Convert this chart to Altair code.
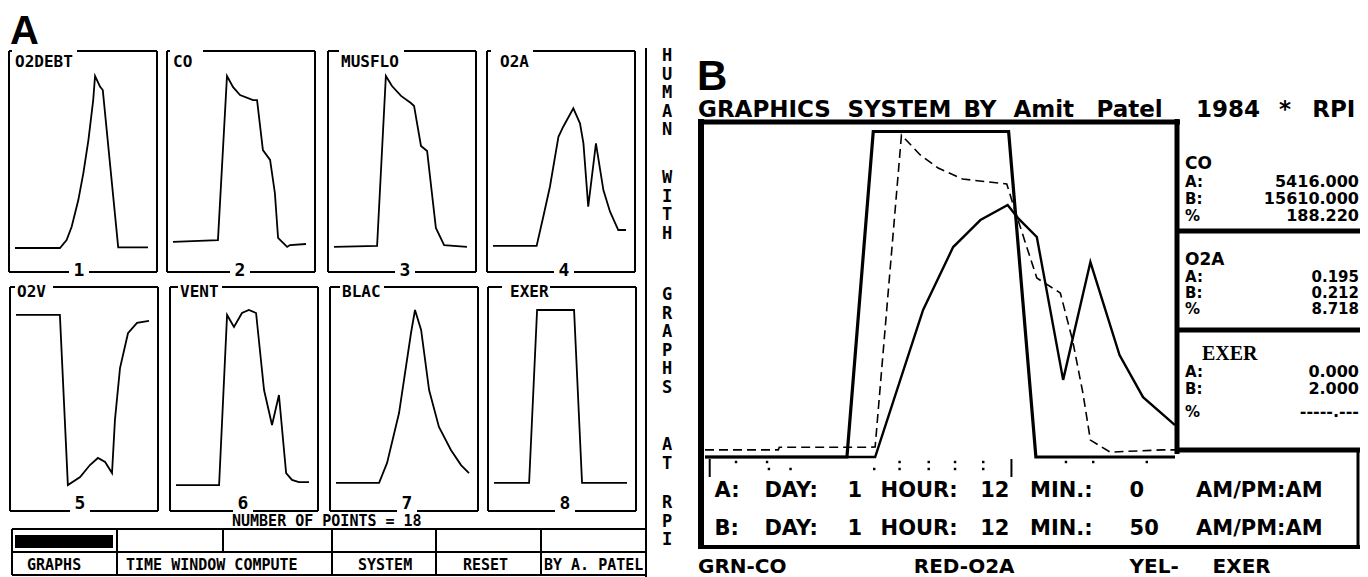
import re
import altair as alt
import pandas as pd

# ======================= DATA =======================
# Panel A: eight small traces, time in minutes (0-50), value in % of panel full scale
O2DEBT_T = [0, 16.9, 19.4, 21.3, 23.8, 25.7, 27.6, 29.4, 30.1, 32.0, 33.0, 38.8, 50]
O2DEBT_V = [0, 0, 4.6, 12.3, 27.7, 43.3, 62.4, 85.5, 99.4, 93.2, 91.3, 0.4, 0.4]

CO_T = [0, 16.9, 20.3, 22.6, 25.2, 30.1, 31.6, 33.8, 36.5, 38.3, 39.5, 42.9, 44.0, 50]
CO_V = [3.5, 4.6, 99.4, 93.0, 88.4, 85.5, 85.5, 56.6, 50.9, 31.8, 5.8, 0.6, 1.7, 2.3]

MUSFLO_T = [0, 16.2, 19.5, 21.8, 25.2, 28.9, 30.1, 32.7, 35.0, 38.3, 41.4, 50]
MUSFLO_V = [0.6, 1.2, 99.4, 93.6, 87.9, 83.8, 82.1, 59.0, 56.1, 11.6, 1.7, 0.6]

O2A_T = [0, 16.4, 18.9, 21.4, 24.6, 26.4, 30.2, 32.7, 34.0, 35.8, 38.7, 41.5, 44.0, 47.1, 50]
O2A_V = [1.2, 1.2, 18.1, 35.4, 64.3, 70.1, 80.7, 72.1, 60.5, 23.9, 60.5, 33.5, 21.0, 10.4, 10.4]

O2V_T = [0, 16.5, 19.5, 24.1, 27.8, 30.8, 33.5, 36.1, 37.2, 39.1, 42.1, 45.5, 50]
O2V_V = [97.2, 97.2, 1.1, 5.6, 12.4, 16.4, 14.1, 7.9, 37.9, 67.2, 86.9, 92.7, 93.8]

VENT_T = [0, 16.2, 19.2, 21.8, 24.8, 27.4, 30.1, 33.1, 36.1, 38.7, 41.4, 43.6, 46.2, 50]
VENT_V = [1.1, 1.1, 97.2, 90.4, 98.3, 100, 98.3, 54.8, 35.0, 52.0, 7.9, 4.0, 2.8, 2.8]

BLAC_T = [0, 16.2, 19.2, 23.7, 28.2, 29.7, 32.0, 35.0, 38.7, 43.2, 47.0, 50]
BLAC_V = [2.3, 2.3, 13.6, 41.8, 87.0, 100, 88.7, 54.8, 33.9, 20.9, 12.4, 7.9]

EXER_T = [0, 13.2, 16.2, 30.1, 33.1, 50]
EXER_V = [2.3, 2.3, 100, 100, 2.3, 2.3]

PANEL_NAMES = ["O2DEBT", "CO", "MUSFLO", "O2A", "O2V", "VENT", "BLAC", "EXER"]
PANEL_NUMBERS = ["1", "2", "3", "4", "5", "6", "7", "8"]
PANEL_SERIES = [(O2DEBT_T, O2DEBT_V), (CO_T, CO_V), (MUSFLO_T, MUSFLO_V), (O2A_T, O2A_V),
                (O2V_T, O2V_V), (VENT_T, VENT_V), (BLAC_T, BLAC_V), (EXER_T, EXER_V)]

SIDE_WORDS = ["HUMAN", "WITH", "GRAPHS", "AT", "RPI"]
POINTS_LABEL = "NUMBER OF POINTS = 18"
BUTTONS = ["GRAPHS", "TIME WINDOW COMPUTE", "SYSTEM", "RESET", "BY A. PATEL"]

# Panel B: overlay of three series
B_EXER_T = [0, 15.1, 17.9, 32.3, 35.2, 50]
B_EXER_V = [0, 0, 100, 100, 0, 0]
B_CO_T = [0, 7.8, 7.9, 17.5, 18.1, 20.9, 22.9, 24.8, 27.4, 32.1, 33.3, 35.3, 37.8, 39.1, 40.2, 41.0, 43.1, 48.7, 50]
B_CO_V = [2.2, 2.2, 3.0, 3.0, 3.1, 98.9, 92.8, 88.8, 85.4, 83.9, 72.8, 55.0, 50.4, 35.9, 19.7, 5.2, 1.5, 2.2, 2.2]
B_O2A_T = [0, 18.1, 23.2, 26.4, 27.9, 29.3, 32.2, 33.3, 35.3, 38.1, 41.0, 44.1, 46.6, 50]
B_O2A_V = [0, 0, 45.2, 64.5, 68.8, 72.8, 77.4, 73.4, 67.6, 23.7, 59.9, 31.3, 18.4, 9.8]

SAMPLE_T = [3.3, 6.6, 38.4, 41.3, 47.0, 6.8, 9.1, 18.0, 20.7, 23.8, 26.6, 29.6, 20.7, 23.8, 26.6, 29.6]
SAMPLE_ROW = [0, 0, 0, 0, 0, 1, 1, 1, 0, 0, 0, 0, 1, 1, 1, 1]
CURSOR_T = [0.5, 32.6]

B_TITLE = "GRAPHICS SYSTEM BY Amit Patel 1984 * RPI"
B_ROWS = [" A: DAY: 1 HOUR: 12 MIN.: 0   AM/PM:AM",
          " B: DAY: 1 HOUR: 12 MIN.: 50  AM/PM:AM"]
B_LEGEND = "GRN-CO       RED-O2A      YEL- EXER"
READOUT_NAMES = ["CO", "O2A", "EXER"]
READOUT_LABELS = ["A:", "B:", "%"]
READOUT_VALUES = [["5416.000", "15610.000", "188.220"],
                  ["0.195", "0.212", "8.718"],
                  ["0.000", "2.000", "-----.---"]]

# ======================= LAYOUT (pixel positions of the page) =======================
OFF = 8
W, H = 1352, 569
FONT_A = "DejaVu Sans Mono, Liberation Mono, monospace"
FONT_B = "DejaVu Sans, Verdana, sans-serif"
FONT_SERIF = "Liberation Serif, DejaVu Serif, serif"
FONT_BIG = "Liberation Sans, DejaVu Sans, sans-serif"
XMAX = 1360  # right edge of the drawable page

LEFTS = [[9, 167, 328, 487], [10, 170, 330, 488]]
PW = 148
ROW_Y = [(51, 272), (287, 511)]
CURVE_Y = [(248, 75), (487, 310)]
TITLE_OFF = [(3, 6, 68), (3, 6, 36), (11, 13, 76), (4, 13, 46),
             (5, 7, 43), (8, 10, 52), (10, 12, 54), (14, 22, 62)]
TITLE_BASE = [16, 10]
NUM_OFF = [70, 73, 77, 77]
NUM_Y = [-1, -7]
NUM_GAP = 10

GX0, CELL = 698, 16.6
B_PLOT_X = (705, 1175)
B_PLOT_Y = (457, 125)

rules = []


def seg(x1, y1, x2, y2, w=2):
    rules.append(dict(x=x1 - OFF, y=y1 - OFF, x2=x2 - OFF, y2=y2 - OFF, w=w))


a_left, a_num, a_side, big, b_left, b_right, b_serif = [], [], [], [], [], [], []


def put(lst, x, y, text, size):
    lst.append(dict(x=x - OFF, y=y - OFF, text=text, s=size))


def tokens(lst, s, y, size, x0=GX0):
    for m in re.finditer(r"\S+", s):
        put(lst, x0 + m.start() * CELL, y, m.group(), size)


layers = []

# ---- Panel A frames, titles, numbers, curves ----
for i, name in enumerate(PANEL_NAMES):
    r, c = divmod(i, 4)
    fl = LEFTS[r][c]
    fr = fl + PW
    yt, yb = ROW_Y[r]
    seg(fl, yt, fl, yb)
    seg(fr, yt, fr, yb)
    ce, tx, rs = TITLE_OFF[i]
    seg(fl, yt, fl + ce, yt)
    seg(fl + rs, yt, fr, yt)
    nx = fl + NUM_OFF[c]
    seg(fl, yb, nx - NUM_GAP, yb)
    seg(nx + NUM_GAP, yb, fr, yb)
    put(a_left, fl + tx, yt + TITLE_BASE[r], name, 16)
    put(a_num, nx, yb + NUM_Y[r], PANEL_NUMBERS[i], 18)

    tt, vv = PANEL_SERIES[i]
    df = pd.DataFrame({"t": tt, "v": vv})
    yb0, yt0 = CURVE_Y[r]
    layers.append(
        alt.Chart(df).mark_line(color="black", strokeWidth=1.8).encode(
            x=alt.X("t:Q", axis=None,
                    scale=alt.Scale(domain=[0, 50], range=[fl + 6 - OFF, fl + 139 - OFF], nice=False, zero=False)),
            y=alt.Y("v:Q", axis=None,
                    scale=alt.Scale(domain=[0, 100], range=[yb0 - OFF, yt0 - OFF], nice=False, zero=False)),
        )
    )

# side separator and vertical words
seg(646, 48, 646, 577)
SIDE_TOPS = [48, 170, 287, 437, 495]
for wd, ty in zip(SIDE_WORDS, SIDE_TOPS):
    put(a_side, 667, ty, "\n".join(wd), 17)

# points label and button bar
put(a_left, 232, 526, POINTS_LABEL, 15)
seg(12, 529, 646, 529)
seg(12, 552, 646, 552)
seg(12, 575, 646, 575)
seg(12, 529, 12, 575)
for sx in [117, 223, 332, 436, 541]:
    seg(sx, 529, sx, 552)
for sx in [117, 332, 436, 541]:
    seg(sx, 552, sx, 575)
BUTTON_X = [27, 126, 358, 463, 544]
for lab, bx in zip(BUTTONS, BUTTON_X):
    put(a_left, bx, 570, lab, 15)

put(big, 10, 44, "A", 40)
put(big, 697, 90, "B", 42)

# ---- Panel B frame ----
seg(698, 122, 1180, 122, 5)
seg(701, 119, 701, 549, 6)
seg(1177, 119, 1177, 454, 5)
seg(1177, 231, XMAX, 231, 5)
seg(1177, 330, XMAX, 330, 5)
seg(1177, 450, XMAX, 450, 5)
seg(XMAX - 2, 450, XMAX - 2, 549, 3)
seg(698, 547, XMAX, 547, 4)

tokens(b_left, B_TITLE, 117, 23)
for s, yy in zip(B_ROWS, [497, 535]):
    tokens(b_left, s, yy, 21)
tokens(b_left, B_LEGEND, 573, 20)

NAME_Y = [169, 265, 360]
ROW_BASE = [[187, 204, 221], [282, 298, 314], [377, 394, 417]]
VAL_SIZE = [16, 15, 16]
for k, nm in enumerate(READOUT_NAMES):
    if nm == "EXER":
        put(b_serif, 1202, NAME_Y[k], nm, 20)
    else:
        put(b_left, 1185, NAME_Y[k], nm, 17)
    for j, lab in enumerate(READOUT_LABELS):
        put(b_left, 1185, ROW_BASE[k][j], lab, 15)
        put(b_right, XMAX - 1, ROW_BASE[k][j], READOUT_VALUES[k][j], VAL_SIZE[k])

BX = alt.Scale(domain=[0, 50], range=[B_PLOT_X[0] - OFF, B_PLOT_X[1] - OFF], nice=False, zero=False)
BY = alt.Scale(domain=[0, 102], range=[B_PLOT_Y[0] - OFF, B_PLOT_Y[1] - OFF], nice=False, zero=False)


def bline(tt, vv, width, dash=None):
    df = pd.DataFrame({"t": tt, "v": vv})
    kw = dict(color="black", strokeWidth=width)
    if dash:
        kw["strokeDash"] = dash
    return alt.Chart(df).mark_line(**kw).encode(
        x=alt.X("t:Q", scale=BX, axis=None),
        y=alt.Y("v:Q", scale=BY, axis=None),
    )


layers.append(bline(B_EXER_T, B_EXER_V, 3.2))
layers.append(bline(B_O2A_T, B_O2A_V, 2.4))
layers.append(bline(B_CO_T, B_CO_V, 1.6, [9, 5]))

dots = pd.DataFrame({"t": SAMPLE_T, "row": SAMPLE_ROW})
layers.append(
    alt.Chart(dots).mark_square(color="black", size=6, opacity=1).encode(
        x=alt.X("t:Q", scale=BX, axis=None),
        y=alt.Y("row:Q", axis=None,
                scale=alt.Scale(domain=[0, 1], range=[462 - OFF, 469 - OFF], nice=False, zero=False)),
    )
)
cur = pd.DataFrame({"t": CURSOR_T})
layers.append(
    alt.Chart(cur).mark_rule(color="black", strokeWidth=2).encode(
        x=alt.X("t:Q", scale=BX, axis=None),
        y=alt.value(459 - OFF),
        y2=alt.value(477 - OFF),
    )
)

# ---- decorations ----
rules_df = pd.DataFrame(rules)
layers.append(
    alt.Chart(rules_df).mark_rule(color="black").encode(
        x=alt.X("x:Q", scale=None), x2="x2:Q",
        y=alt.Y("y:Q", scale=None), y2="y2:Q",
        strokeWidth=alt.StrokeWidth("w:Q", scale=None),
    )
)
rect_df = pd.DataFrame({"x": [15 - OFF], "x2": [113 - OFF], "y": [535 - OFF], "y2": [548 - OFF]})
layers.append(
    alt.Chart(rect_df).mark_rect(color="black").encode(
        x=alt.X("x:Q", scale=None), x2="x2:Q",
        y=alt.Y("y:Q", scale=None), y2="y2:Q",
    )
)


def text_layer(rows, font, align, baseline, weight="bold", **extra):
    df = pd.DataFrame(rows)
    return alt.Chart(df).mark_text(font=font, align=align, baseline=baseline, fontWeight=weight,
                                   color="black", **extra).encode(
        x=alt.X("x:Q", scale=None),
        y=alt.Y("y:Q", scale=None),
        text="text:N",
        size=alt.Size("s:Q", scale=None),
    )


layers.append(text_layer(a_left, FONT_A, "left", "alphabetic"))
layers.append(text_layer(a_num, FONT_A, "center", "middle"))
layers.append(text_layer(a_side, FONT_A, "center", "top", lineBreak="\n", lineHeight=18.5))
layers.append(text_layer(big, FONT_BIG, "left", "alphabetic"))
layers.append(text_layer(b_left, FONT_B, "left", "alphabetic"))
layers.append(text_layer(b_right, FONT_B, "right", "alphabetic"))
layers.append(text_layer(b_serif, FONT_SERIF, "left", "alphabetic"))

chart = (
    alt.layer(*layers)
    .resolve_scale(x="independent", y="independent")
    .properties(width=W, height=H, autosize=alt.AutoSizeParams(type="none"), padding=0, background="white")
    .configure_view(strokeOpacity=0)
)

chart.save("out.html", embed_options={"renderer": "svg", "actions": False})
